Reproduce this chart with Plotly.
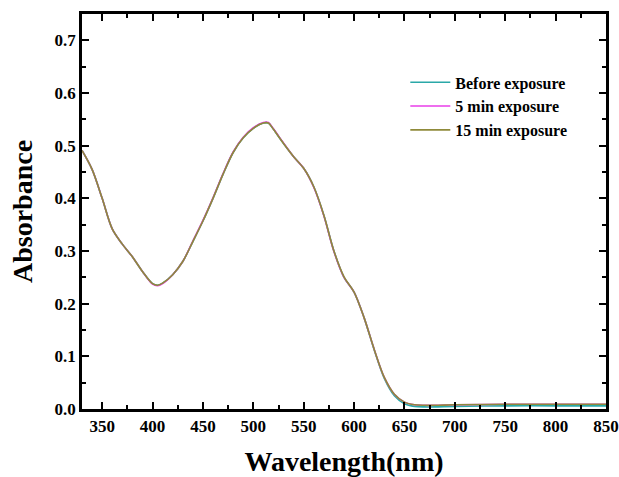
import plotly.graph_objects as go

wavelength = [330, 340, 350, 360, 370, 380, 390, 400, 405, 410, 420, 430, 440, 450,
              460, 470, 480, 490, 500, 510, 515, 520, 530, 540, 550, 560, 570, 580, 590,
              600, 610, 620, 630, 640, 650, 660, 670, 680, 700, 750, 800, 850]

before = [0.491, 0.455, 0.400, 0.342, 0.313, 0.289, 0.261, 0.238, 0.235, 0.239, 0.255,
          0.280, 0.318, 0.357, 0.400, 0.446, 0.487, 0.515, 0.533, 0.543, 0.543, 0.531, 0.504,
          0.479, 0.457, 0.422, 0.368, 0.300, 0.250, 0.222, 0.173, 0.112, 0.058, 0.025, 0.010,
          0.005, 0.004, 0.004, 0.005, 0.006, 0.006, 0.006]

min5 = [0.491, 0.455, 0.400, 0.342, 0.313, 0.289, 0.261, 0.237, 0.234, 0.238, 0.255,
        0.280, 0.319, 0.358, 0.401, 0.447, 0.488, 0.516, 0.534, 0.544, 0.544, 0.532, 0.505,
        0.479, 0.457, 0.421, 0.367, 0.299, 0.250, 0.222, 0.173, 0.113, 0.060, 0.028, 0.013,
        0.008, 0.007, 0.007, 0.008, 0.009, 0.009, 0.009]

min15 = [0.491, 0.455, 0.400, 0.342, 0.313, 0.289, 0.261, 0.238, 0.235, 0.239, 0.255,
         0.280, 0.318, 0.357, 0.400, 0.446, 0.487, 0.515, 0.533, 0.543, 0.543, 0.531, 0.504,
         0.479, 0.457, 0.422, 0.368, 0.300, 0.251, 0.222, 0.173, 0.113, 0.060, 0.028, 0.013,
         0.008, 0.007, 0.007, 0.008, 0.009, 0.009, 0.009]

series_names = ["Before exposure", "5 min exposure", "15 min exposure"]
series_colors = ["#2aa8a8", "#e83ee8", "#8f8a3a"]
x_ticks = [350, 400, 450, 500, 550, 600, 650, 700, 750, 800, 850]
y_ticks = [0.0, 0.1, 0.2, 0.3, 0.4, 0.5, 0.6, 0.7]

FONT = "Liberation Serif, Times New Roman, serif"

fig = go.Figure()
for name, ys, col in zip(series_names, [before, min5, min15], series_colors):
    fig.add_trace(go.Scatter(x=wavelength, y=ys, mode="lines", name=name,
                             line=dict(color=col, width=1.6, shape="spline", smoothing=0.9)))

axis_common = dict(showline=True, linecolor="black", linewidth=2.5, mirror="ticks",
                   ticks="inside", ticklen=7, tickwidth=2, tickcolor="black",
                   showgrid=False, zeroline=False, automargin=False,
                   tickfont=dict(family=FONT, size=17, color="black", weight="bold"))

fig.update_xaxes(range=[330, 850], tickvals=x_ticks, ticktext=[str(v) for v in x_ticks],
                 minor=dict(ticks="inside", ticklen=4, tickwidth=2, dtick=25, tick0=325, tickcolor="black"),
                 title=dict(text="Wavelength(nm)", font=dict(family=FONT, size=28, color="black", weight="bold"),
                            standoff=20),
                 **axis_common)
fig.update_yaxes(range=[0, 0.75], tickvals=y_ticks, ticktext=[f"{v:.1f}" for v in y_ticks],
                 minor=dict(ticks="inside", ticklen=4, tickwidth=2, dtick=0.05, tick0=0, tickcolor="black"),
                 title=dict(text="Absorbance", font=dict(family=FONT, size=28, color="black", weight="bold"),
                            standoff=14),
                 **axis_common)

fig.update_layout(
    width=619, height=477,
    margin=dict(l=82, r=13, t=14, b=68),
    plot_bgcolor="white", paper_bgcolor="white",
    legend=dict(x=0.617, y=0.87, xanchor="left", yanchor="top",
                bgcolor="rgba(0,0,0,0)", borderwidth=0, itemwidth=40,
                font=dict(family=FONT, size=16, color="black", weight="bold"),
                tracegroupgap=0),
    showlegend=True,
)

fig.write_html("out.html", config={"displayModeBar": False},
               post_script="document.body.style.margin='0';document.body.style.overflow='hidden';")
